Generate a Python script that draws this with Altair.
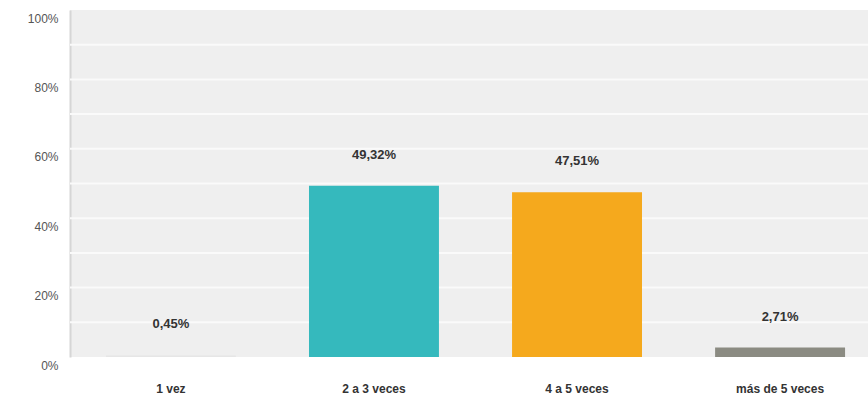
import altair as alt
import pandas as pd

categories = ["1 vez", "2 a 3 veces", "4 a 5 veces", "más de 5 veces"]
values = [0.45, 49.32, 47.51, 2.71]
labels = ["0,45%", "49,32%", "47,51%", "2,71%"]
colors = ["#e6e6e6", "#35b9bd", "#f5a91d", "#8b8b82"]
y_ticks = [0, 20, 40, 60, 80, 100]
grid_lines = [10, 20, 30, 40, 50, 60, 70, 80, 90]

df = pd.DataFrame({"cat": categories, "val": values, "label": labels})
grid_df = pd.DataFrame({"g": grid_lines})

xscale = alt.Scale(range=[0, 811], paddingInner=0.36, paddingOuter=0.177)
yscale = alt.Scale(domain=[0, 100], nice=False)

yaxis = alt.Axis(values=y_ticks, labelExpr="datum.value + '%'",
                 labelFont="Liberation Sans", labelFontSize=12, labelColor="#555555",
                 labelOffset=8, labelPadding=12, ticks=False,
                 domain=True, domainColor="#d6d6d6", domainWidth=2,
                 grid=False)

grid = alt.Chart(grid_df).mark_rule(color="#fafafa", strokeWidth=2).encode(
    y=alt.Y("g:Q", scale=yscale, title=None, axis=yaxis),
)

bars = alt.Chart(df).mark_bar().encode(
    x=alt.X("cat:N", sort=categories, title=None, scale=xscale,
            axis=alt.Axis(labelAngle=0, labelFont="Liberation Sans", labelFontSize=12,
                          labelFontWeight="bold", labelColor="#333333", ticks=False,
                          domain=False, labelPadding=26)),
    y=alt.Y("val:Q", title=None, scale=yscale, axis=yaxis),
    color=alt.Color("cat:N", sort=categories,
                    scale=alt.Scale(domain=categories, range=colors), legend=None),
)

text = alt.Chart(df).mark_text(dy=-31, font="Liberation Sans", fontSize=13,
                               fontWeight="bold", color="#333333").encode(
    x=alt.X("cat:N", sort=categories, scale=xscale),
    y=alt.Y("val:Q", scale=yscale),
    text="label:N",
)

chart = (grid + bars + text).properties(
    width=798, height=347,
    autosize=alt.AutoSizeParams(type="none"),
    padding={"left": 70, "top": 10, "right": 0, "bottom": 44},
    background="#ffffff",
).configure_view(fill="#efefef", stroke=None)

chart.save("out.html", embed_options={"renderer": "svg", "actions": False})
